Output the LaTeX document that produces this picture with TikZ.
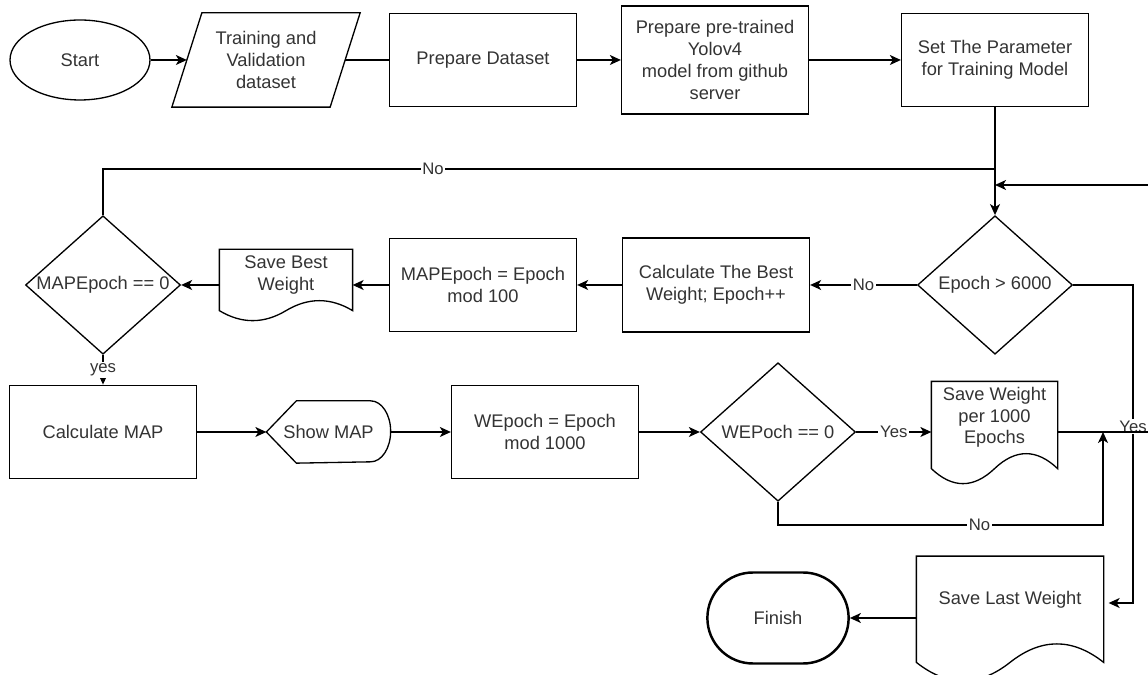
\documentclass[tikz,border=0pt]{standalone}
\usepackage{fontspec}
\setmainfont{Liberation Sans}
\usepackage{tikz}
\usetikzlibrary{arrows.meta,calc,shapes.geometric,shapes.misc}

\newcommand{\docpath}[2]{%
  \draw ($(#1.south east)+(0,-#2/2)$) -- (#1.north east) -- (#1.north west) -- ($(#1.south west)+(0,-#2/2)$)
    .. controls ($(#1.south west)!1/6!(#1.south east)+(0,-7*#2/6)$) and ($(#1.south west)!1/3!(#1.south east)+(0,-7*#2/6)$) .. ($(#1.south)+(0,-#2/2)$)
    .. controls ($(#1.south west)!2/3!(#1.south east)+(0,#2/6)$) and ($(#1.south west)!5/6!(#1.south east)+(0,#2/6)$) .. ($(#1.south east)+(0,-#2/2)$) -- cycle;}

\begin{document}
\begin{tikzpicture}[x=0.02cm, y=0.02cm, line width=0.75pt,
    >={Stealth[length=0.22cm,width=0.2cm,inset=0.06cm]},
    every node/.style={font=\fontsize{10.4}{12.35}\selectfont, text=black!80},
    box/.style={draw, rectangle, minimum width=3.74cm, minimum height=1.87cm, align=center, inner sep=2pt},
    plain/.style={rectangle, align=center, inner sep=0pt},
    dec/.style={draw, diamond, minimum width=3.1cm, minimum height=2.77cm, inner sep=0pt},
    lbl/.style={fill=white, font=\fontsize{9.5}{11}\selectfont, inner sep=1pt}]
    \useasboundingbox (0,0) rectangle (1148,675);

    \node (start) at (80,615) [draw, ellipse, minimum width=2.8cm, minimum height=1.6cm] {Start};
    \node (data) at (266,615) [plain, minimum width=3.14cm, minimum height=1.86cm] {Training and\\Validation\\dataset};
    \draw ([xshift=0.3cm]data.north west) -- ([xshift=0.3cm]data.north east) -- ([xshift=-0.3cm]data.south east) -- ([xshift=-0.3cm]data.south west) -- cycle;
    \node (prep) at (483,615) [box] {Prepare Dataset};
    \node (yolo) at (715,615) [box, minimum height=2.16cm] {Prepare pre-trained\\Yolov4\\model from github\\server};
    \node (param) at (995,615) [box] {Set The Parameter\\for Training Model};

    \node (epoch) at (995,390) [dec] {\makebox[0pt]{Epoch > 6000}};
    \node (best) at (716,390) [box, minimum height=1.88cm] {Calculate The Best\\Weight; Epoch++};
    \node (mapmod) at (483,390) [box] {MAPEpoch = Epoch\\mod 100};
    \node (savebest) at (286,400) [plain, minimum width=2.64cm, minimum height=1cm] {Save Best\\Weight};
    \docpath{savebest}{20}
    \node (mapd) at (103,390) [dec] {\makebox[0pt]{MAPEpoch == 0}};

    \node (calc) at (103,243) [box] {Calculate MAP};
    \node (show) at (328.5,243) [plain, minimum width=2.46cm, minimum height=1.22cm] {Show MAP};
    \draw (show.west) -- ([xshift=0.6cm]show.north west) -- ([xshift=-0.4cm]show.north east) arc[start angle=90, end angle=-90, x radius=0.4cm, y radius=0.61cm] -- ([xshift=0.6cm]show.south west) -- cycle;
    \node (wmod) at (545,243) [box] {WEpoch = Epoch\\mod 1000};
    \node (wep) at (778,243) [dec] {\makebox[0pt]{WEPoch == 0}};
    \node (save1k) at (994.5,257.5) [plain, minimum width=2.5cm, minimum height=1.42cm] {Save Weight\\per 1000\\Epochs};
    \docpath{save1k}{30}

    \node (last) at (1010,75) [plain, minimum width=3.72cm, minimum height=1.73cm] {Save Last Weight};
    \docpath{last}{37}
    \node (finish) at (778,57) [draw, rounded rectangle, minimum width=3.06cm, minimum height=1.82cm, line width=1.4pt] {Finish};

    \coordinate (loopin) at (995,506);
    \coordinate (rin) at (1148,490);
    \coordinate (wjoin) at (1103,243);
    \coordinate (yturn) at (1133,390);
    \coordinate (rout) at (1148,243);

    \draw[->] (start) -- (data.west);
    \draw (data.east) -- (prep);
    \draw[->] (prep) -- (yolo);
    \draw[->] (yolo) -- (param);
    \draw[->] (param) -- (epoch);
    \draw (mapd.north) |- node[lbl, pos=0.685] {No} (loopin);
    \draw[->] (rin) -- (rin -| epoch.north);
    \draw[->] (epoch) -- node[lbl] {No} (best);
    \draw[->] (best) -- (mapmod);
    \draw[->] (mapmod.west) -- (mapmod.west -| savebest.east);
    \draw[->] (savebest.west |- mapd.east) -- (mapd.east);
    \draw[->] (mapd) -- node[lbl] {yes} (calc);
    \draw[->] (calc) -- (show.west);
    \draw[->] (show.east) -- (wmod);
    \draw[->] (wmod) -- (wep);
    \draw[->] (wep.east) -- node[lbl] {Yes} (wep.east -| save1k.west);
    \draw[->] (wep.south) -- ++(0,-23) -| node[lbl, pos=0.31] {No} (wjoin);
    \draw[->] (epoch.east) -- (yturn) |- node[lbl, pos=0.223] {Yes} ($(last.east)+(5,-3)$);
    \draw (save1k.east |- wep.east) -- (rout);
    \draw[->] (last.west |- finish.east) -- (finish.east);
  \end{tikzpicture}
\end{document}
